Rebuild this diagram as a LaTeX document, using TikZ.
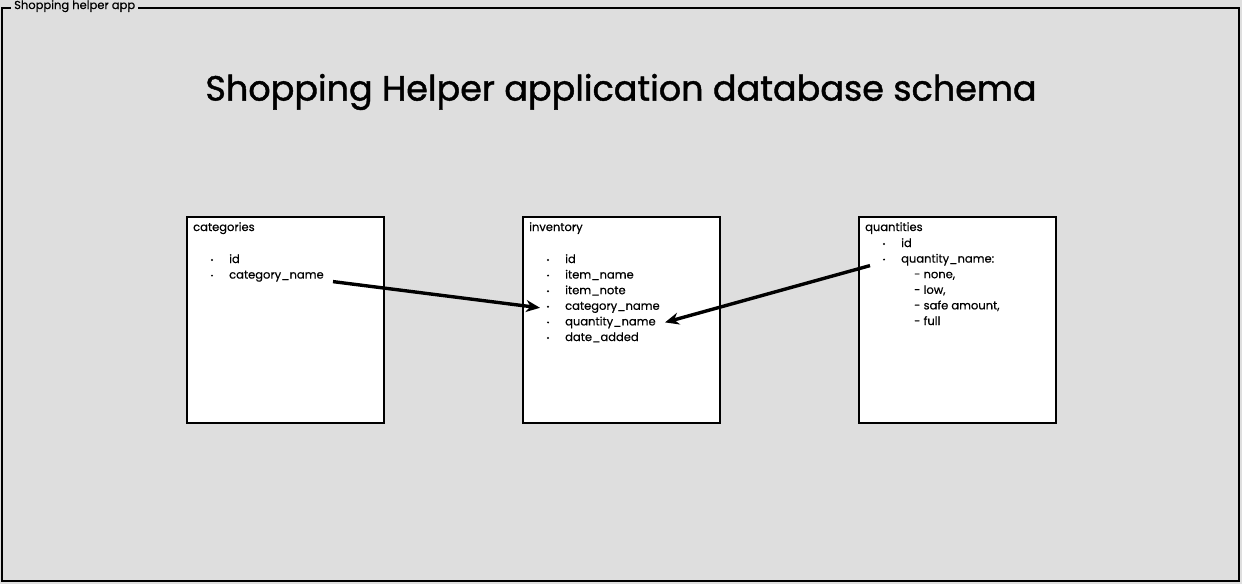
\documentclass[tikz,border=0pt]{standalone}
\usepackage{fontspec}
\setmainfont{Poppins}[FakeBold=0.4]
\newfontfamily\titlefont{Poppins}[FakeBold=1.2]
\usetikzlibrary{arrows.meta}
\definecolor{canvas}{HTML}{DEDEDE}

\begin{document}
\begin{tikzpicture}
	[
	x=1pt, y=-1pt,
	frame/.style={draw=black, line width=2.4pt, fill=canvas},
	table/.style={draw=black, line width=2.2pt, fill=white, anchor=north west, minimum width=197pt, minimum height=206pt, inner sep=0pt},
	item/.style={anchor=west, inner sep=0pt, font=\fontsize{11.5}{14}\selectfont, text height=9pt, text depth=3pt},
	dot/.style={circle, fill=black, inner sep=0pt, minimum size=2.2pt},
	link/.style={-{Stealth[length=14pt,width=12pt]}, line width=3.4pt},
	]
		% canvas and outer frame
		\fill[canvas] (0,0) rectangle (1242,584);
		\useasboundingbox (0,0) rectangle (1242,584);
		\draw[frame] (2,8) rectangle (1239,581);
		\node[item, fill=canvas, inner xsep=3pt, font=\fontsize{11.5}{13}\selectfont] (app) at (11,6) {Shopping helper app};
		
		% title
		\node[font=\titlefont\fontsize{35}{40}\selectfont] (title) at (621,92) {Shopping Helper application database schema};
		
		% tables
		\node[table] (categories) at 	(186,216) {};
		\node[table] (inventory) at 	(522,216) {};
		\node[table] (quantities) at 	(858,216) {};
		
		\node[item] (cattitle) at 		(193,228) {categories};
		\node[item] (invtitle) at 		(529,228) {inventory};
		\node[item] (qtytitle) at 		(865,228) {quantities};
		
		% categories fields
		\foreach \name/\txt [count=\i] in {catid/id,catname/category\_name}
			{
			\node[dot] (catdot\i) at 	(212, 244.4+15.6*\i) {};
			\node[item] (\name) at 		(229, 244.4+15.6*\i) {\txt};
			}
		
		% inventory fields
		\foreach \name/\txt [count=\i] in {invid/id,invitem/item\_name,invnote/item\_note,invcat/category\_name,invqty/quantity\_name,invdate/date\_added}
			{
			\node[dot] (invdot\i) at 	(548, 244.4+15.6*\i) {};
			\node[item] (\name) at 		(565, 244.4+15.6*\i) {\txt};
			}
		
		% quantities fields
		\foreach \name/\txt [count=\i] in {qtyid/id,qtyname/quantity\_name:}
			{
			\node[dot] (qtydot\i) at 	(884, 228.4+15.6*\i) {};
			\node[item] (\name) at 		(901, 228.4+15.6*\i) {\txt};
			}
		\foreach \name/\txt [count=\i] in {none/{- none,},low/{- low,},safe/{- safe amount,},full/{- full}}
			\node[item] (\name) at 		(914, 259.6+15.6*\i) {\txt};
		
		% relations
		\draw[link] ([xshift=104pt,yshift=-6pt]catname.west) -- ([xshift=-25pt,yshift=-1pt]invcat.west);
		\draw[link] ([xshift=-31pt,yshift=-6pt]qtyname.west) -- ([xshift=100pt]invqty.west);
		
	\end{tikzpicture}
\end{document}
